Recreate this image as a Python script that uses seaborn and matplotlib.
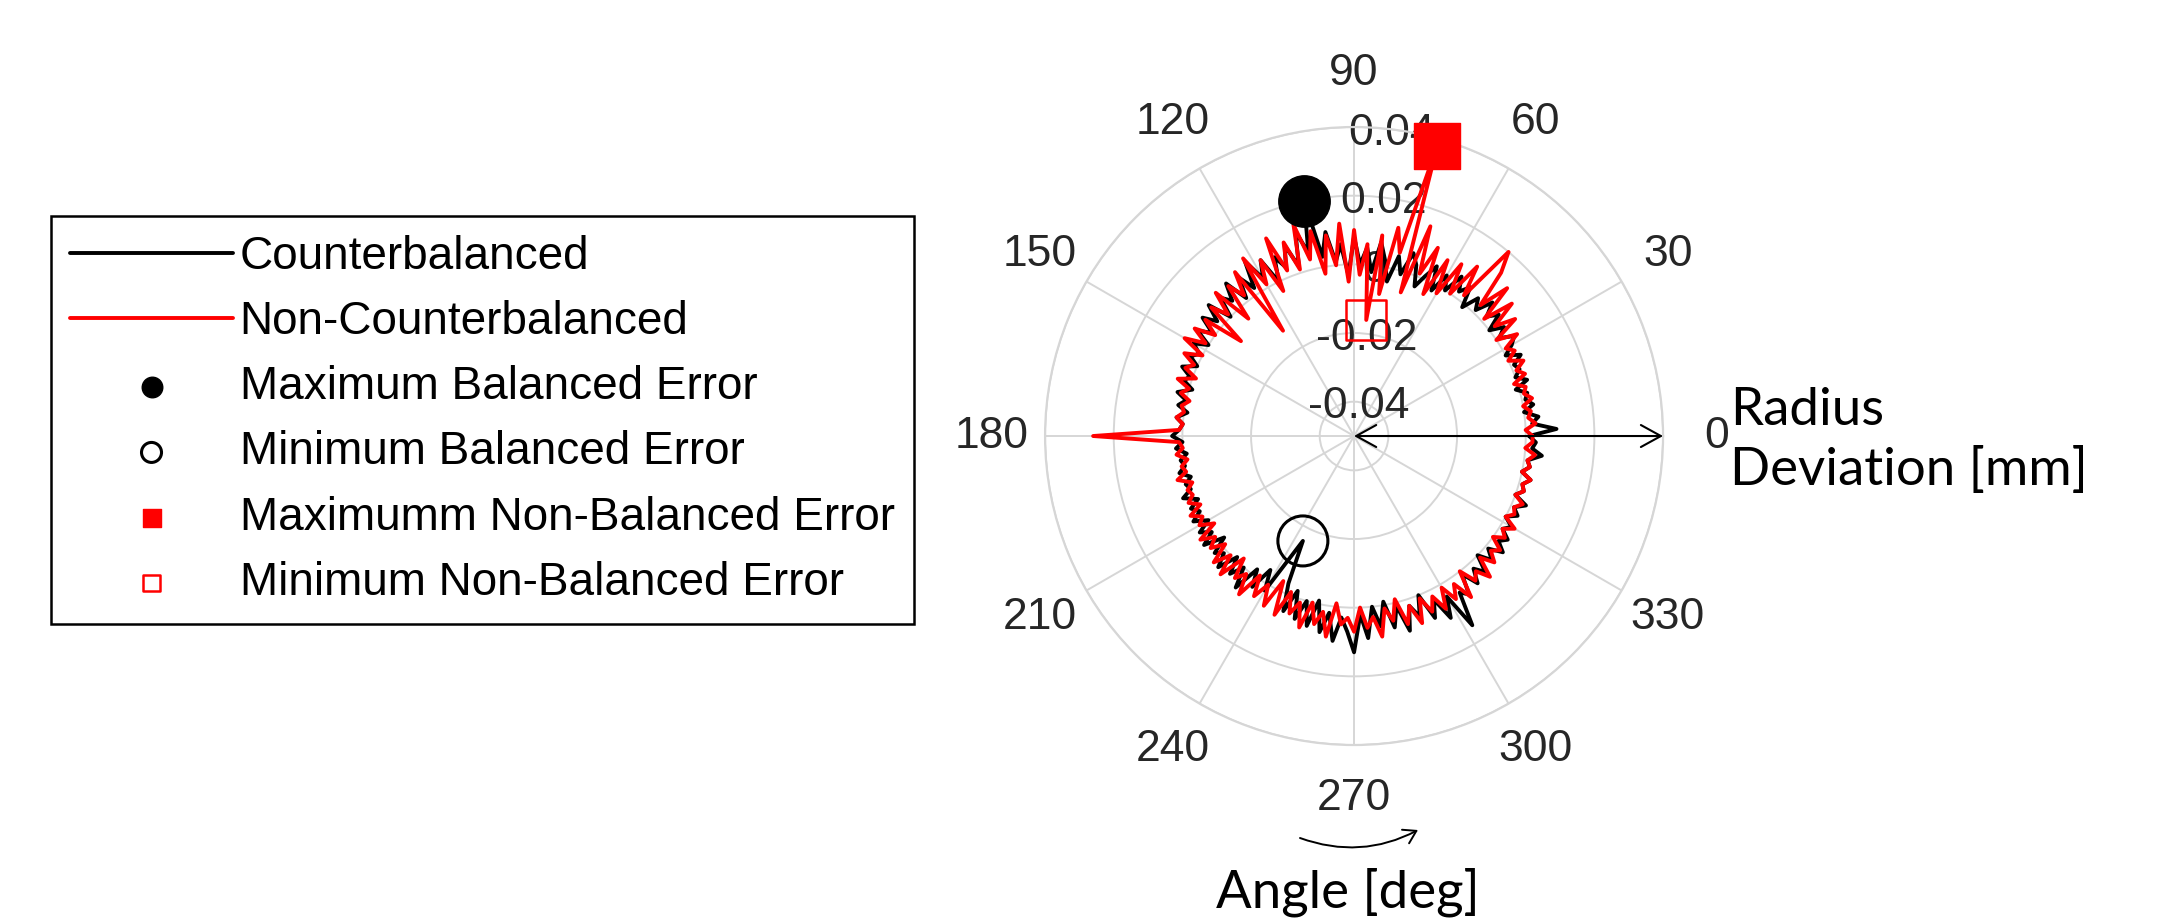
import numpy as np
import pandas as pd
import matplotlib
matplotlib.use("Agg")
import matplotlib.pyplot as plt
import seaborn as sns

# --- Data (radius deviation, in 0.001 mm, every 2 deg) ---
angle_deg = np.arange(0, 360, 2)

counterbalanced_um = [
    1, 9, 2, 4, 0, 3, 1, 2, -1, 3, 0, 2, 1, 4, 0,
    3, 5, 1, 4, 0, 5, 2, 6, 1, 4, -1, 5, 2, 6, 0,
    4, -2, 5, 1, -3, 3, 6, -1, 4, -4, 2, 7, -2, 5, 0,
    8, -3, 6, 1, 10, 3, 20, 5, 12, 2, 9, 3, 7, 0, 8,
    3, 10, 2, 7, 1, 8, 3, 6, 0, 7, 2, 6, 1, 5, 0,
    4, 1, 3, 0, 4, 1, 2, -1, 3, 0, 2, -1, 2, 0, 1,
    3, 0, 2, -1, 1, 0, 2, -1, 1, 0, 3, -1, 2, 0, 3,
    -1, 3, 0, 4, -2, 3, 1, 5, -1, 4, 0, 6, -2, 3, -4,
    2, -9, -16, -3, 5, -2, 6, 0, 7, -1, 8, 2, 10, 3, 7,
    13, 2, 9, 0, 6, -1, 7, 1, 9, 2, 6, 0, 8, 3, 10,
    4, 15, 5, 7, 1, 6, 2, 5, 0, 4, 1, 5, 2, 4, 1,
    3, 0, 3, 1, 4, 0, 2, 1, 3, 0, 2, 1, 5, 2, 3,
]

non_counterbalanced_um = [
    2, 0, 3, 1, 2, 0, 3, 1, 2, -1, 3, 1, 4, 0, 3,
    1, 6, 0, 8, 2, 10, 1, 12, 3, 14, 20, 2, 11, 0, 9,
    -2, 8, -4, 10, 1, 15, -6, 38, 5, 12, -8, 9, -16, 6, -3,
    10, -5, 12, 0, 9, -2, 11, 3, 14, 1, 10, 2, 13, -3, 8,
    1, 11, -13, 9, 2, 7, -4, 8, 1, 6, -7, 5, 0, 6, 1,
    7, 0, 5, 1, 3, -1, 4, 0, 2, -1, 1, 0, 2, 0, 1,
    26, 1, 0, 2, -1, 1, 0, 3, -1, 1, 0, 2, -1, 3, 0,
    2, -2, 4, 0, 3, -1, 5, 0, 6, -2, 4, 1, 7, -1, 5,
    0, 6, -3, 7, -1, 5, 1, 8, 0, 6, 2, 9, -1, 5, 3,
    7, 0, 6, 3, 9, 1, 5, -1, 7, 2, 8, 1, 6, 2, 7,
    1, 6, 2, 8, 0, 5, 3, 7, 1, 5, 2, 4, 0, 3, 1,
    4, 0, 2, 1, 3, 0, 2, 1, 3, 0, 2, 1, 3, 0, 2,
]

radial_ticks = [-0.04, -0.02, 0, 0.02, 0.04]
radial_tick_labels = ["-0.04", "-0.02", "0", "0.02", "0.04"]
angle_ticks = np.arange(0, 360, 30)

legend_labels = [
    "Counterbalanced",
    "Non-Counterbalanced",
    "Maximum Balanced Error",
    "Minimum Balanced Error",
    "Maximumm Non-Balanced Error",
    "Minimum Non-Balanced Error",
]

# --- Tidy frame (loop closed back to 0 deg) ---
theta = np.deg2rad(np.append(angle_deg, 360))
cb = np.array(counterbalanced_um + counterbalanced_um[:1]) / 1000.0
ncb = np.array(non_counterbalanced_um + non_counterbalanced_um[:1]) / 1000.0
df = pd.DataFrame({"theta": theta, "cb": cb, "ncb": ncb})

i_cb_max, i_cb_min = df["cb"].idxmax(), df["cb"].idxmin()
i_ncb_max, i_ncb_min = df["ncb"].idxmax(), df["ncb"].idxmin()

# --- Style ---
sns.set_style("white")
plt.rcParams["font.family"] = ["Liberation Sans", "DejaVu Sans"]
tick_color = "#262626"
grid_color = "#d6d6d6"
tick_size = 32

fig = plt.figure(figsize=(21.57, 9.19), dpi=100)
ax = fig.add_axes([0.4845, 0.1893, 0.2865, 0.6725], projection="polar")
ax.set_axisbelow(True)

sns.lineplot(data=df, x="theta", y="cb", ax=ax, sort=False, estimator=None,
             color="black", linewidth=2.8, label=legend_labels[0], zorder=3)
sns.lineplot(data=df, x="theta", y="ncb", ax=ax, sort=False, estimator=None,
             color="#ff0000", linewidth=2.8, label=legend_labels[1], zorder=4)

sns.scatterplot(x=[df.theta[i_cb_max]], y=[df.cb[i_cb_max]], ax=ax, marker="o",
                s=37 ** 2, color="black", edgecolor="black", linewidth=1,
                label=legend_labels[2], zorder=6, clip_on=False)
sns.scatterplot(x=[df.theta[i_cb_min]], y=[df.cb[i_cb_min]], ax=ax, marker="o",
                s=36 ** 2, facecolor="none", edgecolor="black", linewidth=2.2,
                label=legend_labels[3], zorder=6, clip_on=False)
sns.scatterplot(x=[df.theta[i_ncb_max]], y=[df.ncb[i_ncb_max]], ax=ax, marker="s",
                s=33 ** 2, color="#ff0000", edgecolor="#ff0000", linewidth=1,
                label=legend_labels[4], zorder=6, clip_on=False)
sns.scatterplot(x=[df.theta[i_ncb_min]], y=[df.ncb[i_ncb_min]], ax=ax, marker="s",
                s=29 ** 2, facecolor="none", edgecolor="#ff0000", linewidth=1.8,
                label=legend_labels[5], zorder=6, clip_on=False)

# polar axes cosmetics
ax.set_ylim(-0.05, 0.04)
ax.set_yticks(radial_ticks)
ax.set_yticklabels([])
ax.set_xticks(np.deg2rad(angle_ticks))
ax.set_xticklabels([str(a) for a in angle_ticks])
ax.tick_params(axis="x", labelsize=tick_size, colors=tick_color, pad=28)
ax.grid(True, color=grid_color, linewidth=1.4)
ax.spines["polar"].set_color(grid_color)
ax.spines["polar"].set_linewidth(1.6)
ax.set_xlabel("")
ax.set_ylabel("")

# radial labels sit on the rings, under the data (as in the MATLAB polarplot)
for r, lab in zip(radial_ticks, radial_tick_labels):
    ax.text(np.deg2rad(83), r, lab, ha="center", va="center_baseline",
            fontsize=tick_size, color=tick_color, zorder=1)

# radius arrow
ax.annotate("", xy=(0, 0.04), xytext=(0, -0.05),
            arrowprops=dict(arrowstyle="<->,head_length=0.4,head_width=0.22",
                            color="black", lw=1.5, mutation_scale=36,
                            shrinkA=0, shrinkB=0),
            annotation_clip=False, zorder=7)

# angle direction arrow below 270
ax.annotate("", xy=(1418 / 2157, 89 / 919), xytext=(1300 / 2157, 81 / 919),
            xycoords="figure fraction", textcoords="figure fraction",
            arrowprops=dict(arrowstyle="->,head_length=0.4,head_width=0.25",
                            connectionstyle="arc3,rad=0.22", color="black",
                            lw=1.4, mutation_scale=22, shrinkA=0, shrinkB=0),
            annotation_clip=False)

fig.text(0.802, 0.521, "Radius\nDeviation [mm]", ha="left", va="center",
         fontsize=38, family=["Lato", "DejaVu Sans"], color="black", linespacing=1.3)
fig.text(0.625, 0.0294, "Angle [deg]", ha="center", va="center",
         fontsize=38, family=["Lato", "DejaVu Sans"], color="black")

# legend
handles, labels = ax.get_legend_handles_labels()
leg = ax.legend(handles, labels, loc="upper left", bbox_to_anchor=(0.0236, 0.765),
                bbox_transform=fig.transFigure, fontsize=33, frameon=True,
                fancybox=False, edgecolor="black", framealpha=1,
                handlelength=3.55, handletextpad=0.15, labelspacing=0.46,
                borderpad=0.42, borderaxespad=0, markerscale=0.4)
leg.get_frame().set_linewidth(1.8)
for t in leg.get_texts():
    t.set_color("black")

fig.savefig("out.png", dpi=100)
